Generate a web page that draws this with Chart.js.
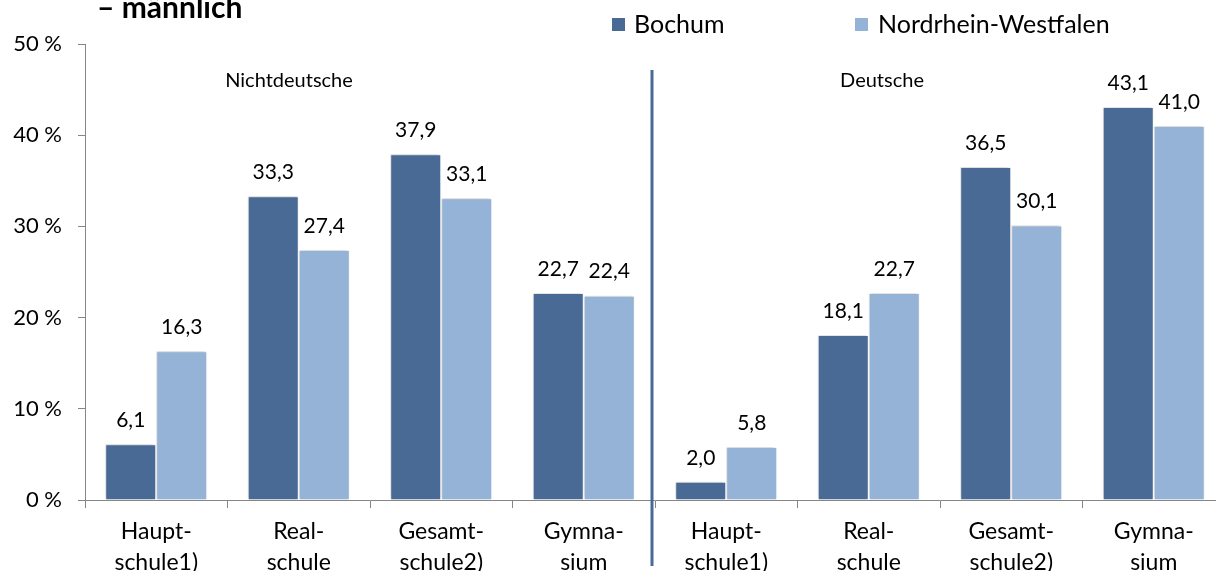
<!DOCTYPE html>
<html><head><meta charset="utf-8">
<script src="https://cdn.jsdelivr.net/npm/chart.js@4"></script>
<style>html,body{margin:0;padding:0;background:#fff;overflow:hidden;width:1216px;height:571px}canvas{display:block}</style>
</head><body>
<canvas id="c" width="1226" height="571" style="width:1226px;height:571px"></canvas>
<script>
const categories = [['Haupt-','schule1)'],['Real-','schule'],['Gesamt-','schule2)'],['Gymna-','sium'],['Haupt-','schule1)'],['Real-','schule'],['Gesamt-','schule2)'],['Gymna-','sium']];
const bochum = [6.1, 33.3, 37.9, 22.7, 2.0, 18.1, 36.5, 43.1];
const nrw = [16.3, 27.4, 33.1, 22.4, 5.8, 22.7, 30.1, 41.0];
const seriesNames = ['Bochum', 'Nordrhein-Westfalen'];
const groupNames = ['Nichtdeutsche', 'Deutsche'];
const titleText = '– männlich';
const yTicks = [0, 10, 20, 30, 40, 50];

const FONT = 'Lato, "Open Sans", sans-serif';
const C1 = '#4A6A96', C2 = '#95B3D7';

const extras = {
  id: 'extras',
  beforeDatasetsDraw(chart) {
    const ctx = chart.ctx; ctx.save();
    ctx.shadowColor = 'rgba(0,0,0,0.22)'; ctx.shadowBlur = 3; ctx.shadowOffsetX = -1; ctx.shadowOffsetY = -1;
  },
  afterDatasetsDraw(chart) {
    const ctx = chart.ctx; ctx.restore();
    ctx.save();
    // data labels
    ctx.fillStyle = '#000'; ctx.font = '21px ' + FONT; ctx.textAlign = 'center'; ctx.textBaseline = 'middle';
    chart.data.datasets.forEach((ds, di) => {
      chart.getDatasetMeta(di).data.forEach((el, i) => {
        ctx.fillText(ds.data[i].toFixed(1).replace('.', ','), el.x, el.y - 24);
      });
    });
    // divider
    const xs = chart.scales.x;
    const xd = (xs.getPixelForValue(3) + xs.getPixelForValue(4)) / 2 - 3;
    ctx.strokeStyle = C1; ctx.lineWidth = 3;
    ctx.beginPath(); ctx.moveTo(xd, 70); ctx.lineTo(xd, 566); ctx.stroke();
    // group labels
    ctx.font = '20px ' + FONT; ctx.fillStyle = '#000';
    ctx.fillText(groupNames[0], 289, 81);
    ctx.fillText(groupNames[1], 882, 81);
    // title
    ctx.font = 'bold 30px ' + FONT; ctx.textAlign = 'left'; ctx.textBaseline = 'alphabetic';
    ctx.fillText(titleText, 97, 18);
    // legend
    ctx.font = '25px ' + FONT; ctx.textBaseline = 'middle';
    ctx.fillStyle = C1; ctx.fillRect(612, 18, 13, 13);
    ctx.fillStyle = '#000'; ctx.fillText(seriesNames[0], 634, 25);
    ctx.fillStyle = C2; ctx.fillRect(855, 18, 13, 13);
    ctx.fillStyle = '#000'; ctx.fillText(seriesNames[1], 878, 25);
    ctx.restore();
  }
};

new Chart(document.getElementById('c'), {
  type: 'bar',
  data: {
    labels: categories,
    datasets: [
      { label: seriesNames[0], data: bochum, backgroundColor: C1, borderColor: '#fff', borderWidth: {left:1,right:1,top:1,bottom:0}, categoryPercentage: 0.716, barPercentage: 1 },
      { label: seriesNames[1], data: nrw, backgroundColor: C2, borderColor: '#fff', borderWidth: {left:1,right:1,top:1,bottom:0}, categoryPercentage: 0.716, barPercentage: 1 }
    ]
  },
  options: {
    responsive: false, animation: false,
    layout: { padding: { top: 44, right: 1, left: 0, bottom: 0 } },
    plugins: { legend: { display: false }, tooltip: { enabled: false }, title: { display: false } },
    scales: {
      x: {
        afterFit(s) { s.height = 71; },
        grid: { offset: true, drawOnChartArea: false, tickLength: 8, color: '#868686' },
        border: { color: '#868686', width: 1 },
        ticks: { color: '#000', font: { family: FONT, size: 23, lineHeight: 1.35 }, padding: 8, maxRotation: 0, autoSkip: false }
      },
      y: {
        min: 0, max: 50,
        afterFit(s) { s.width = 85; },
        afterBuildTicks(s) { s.ticks = yTicks.map(v => ({ value: v })); },
        grid: { drawOnChartArea: false, tickLength: 7, color: '#868686' },
        border: { color: '#868686', width: 1 },
        ticks: { color: '#000', font: { family: FONT, size: 22 }, padding: 16, callback: v => v + ' %' }
      }
    }
  },
  plugins: [extras]
});
</script>
</body></html>
